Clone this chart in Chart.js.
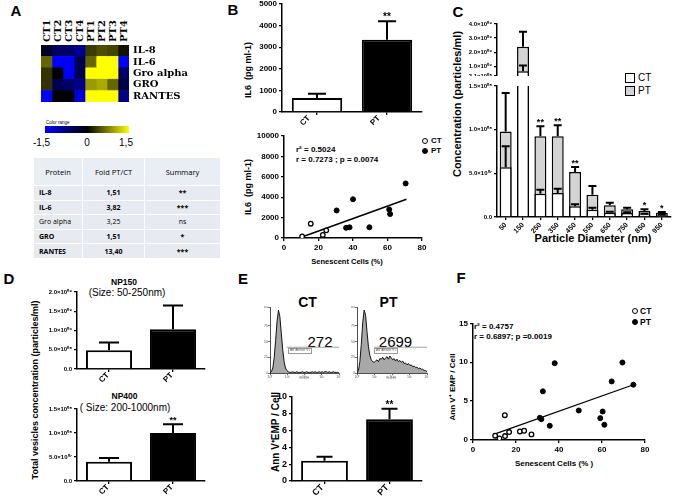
<!DOCTYPE html>
<html>
<head>
<meta charset="utf-8">
<title>Senescence figure</title>
<script src="https://cdn.jsdelivr.net/npm/chart.js@4.4.1/dist/chart.umd.min.js"></script>
<style>
  body { margin: 0; background: #fff; }
  #fig { position: relative; width: 675px; height: 500px; overflow: hidden; font-family: "Liberation Sans", Arial, sans-serif; color: #000; }
  #fig canvas { position: absolute; }
  .t { position: absolute; white-space: nowrap; transform: translate(-50%, -50%); line-height: 1; }
  .l { position: absolute; white-space: nowrap; transform: translateY(-50%); line-height: 1; }
  .v { position: absolute; white-space: nowrap; transform: translate(-50%, -50%) rotate(-90deg); line-height: 1; font-weight: bold; }
  .col { position: absolute; white-space: nowrap; transform: rotate(-90deg); transform-origin: 0 0; line-height: 1;
         font-family: "DejaVu Serif", "Liberation Serif", serif; font-weight: bold; font-size: 10px; }
  .b { font-weight: bold; }
  .panel { font-size: 15px; font-weight: bold; }
  .dot { position: absolute; box-sizing: border-box; width: 6px; height: 6px; border-radius: 50%; border: 1.3px solid #000; transform: translate(-50%, -50%); }
  .sq { position: absolute; box-sizing: border-box; width: 10px; height: 10px; border: 1.5px solid #000; }
  .gate { position: absolute; font-size: 3.5px; color: #555; border: 0.5px solid #999; padding: 0 1px; line-height: 1; background: #fff; }
  #tbl { position: absolute; left: 33px; top: 157px; width: 187px; border-collapse: collapse; table-layout: fixed;
         font-family: "Open Sans", "Noto Sans", sans-serif; font-size: 7px; }
  #tbl th, #tbl td { border: 1px solid #fff; background: #e7ebf1; padding: 0; text-align: center; font-weight: bold; }
  #tbl th { height: 27px; font-weight: normal; font-size: 7.5px; background: #e9eef4; }
  #tbl td { height: 13.6px; }
  #tbl td:first-child { text-align: left; padding-left: 5px; }
  #tbl tr:nth-child(4) td { font-weight: normal; }
</style>
</head>
<body>
<div id="fig">
  <div class="t panel" style="left:16px;top:10px">A</div>
  <div class="t panel" style="left:233px;top:9px">B</div>
  <div class="t panel" style="left:458px;top:10.5px">C</div>
  <div class="t panel" style="left:9px;top:278px">D</div>
  <div class="t panel" style="left:243px;top:277.5px">E</div>
  <div class="t panel" style="left:461px;top:277px">F</div>

  <!-- A: column headers, colour key, table -->
  <div id="heatHead"></div>
  <div class="l" style="left:46px;top:122.5px;font-size:4.5px">Color range</div>
  <div style="position:absolute;left:45px;top:125.7px;width:84px;height:7px;background:linear-gradient(to right,#0000ff,#000 50%,#ffff00)"></div>
  <div id="colorTicks"></div>
  <table id="tbl">
    <colgroup><col style="width:49px"><col style="width:62px"><col style="width:76px"></colgroup>
    <tr><th>Protein</th><th>Fold PT/CT</th><th>Summary</th></tr>
  </table>

  <!-- B -->
  <div class="v" style="left:247.5px;top:70px;font-size:9px">IL6&nbsp; (pg ml-1)</div>
  <div class="v" style="left:248px;top:187px;font-size:9px">IL6&nbsp; (pg ml-1)</div>
  <div class="t b" style="left:347px;top:262px;font-size:7.5px">Senescent Cells (%)</div>
  <div class="l b" style="left:296px;top:150px;font-size:8px">r² = 0.5024</div>
  <div class="l b" style="left:296px;top:159.5px;font-size:8px">r = 0.7273 ; p = 0.0074</div>
  <div class="dot" style="left:425px;top:141px;background:#fff"></div>
  <div class="l b" style="left:431px;top:141px;font-size:8px">CT</div>
  <div class="dot" style="left:425px;top:150.5px;background:#000"></div>
  <div class="l b" style="left:431px;top:150.5px;font-size:8px">PT</div>

  <!-- C -->
  <div class="v" style="left:457px;top:104px;font-size:11px">Concentration (particles/ml)</div>
  <div class="t b" style="left:593px;top:238px;font-size:11px">Particle Diameter (nm)</div>
  <div class="sq" style="left:625px;top:73px;background:#fff"></div>
  <div class="l" style="left:638px;top:78px;font-size:10px">CT</div>
  <div class="sq" style="left:625px;top:86px;background:#d4d4d4"></div>
  <div class="l" style="left:638px;top:91px;font-size:10px">PT</div>

  <!-- D -->
  <div class="v" style="left:35px;top:389.5px;font-size:9px">Total vesicles concentration (particles/ml)</div>
  <div class="t b" style="left:124px;top:281.5px;font-size:8.5px">NP150</div>
  <div class="t" style="left:127px;top:293px;font-size:10px">(Size: 50-250nm)</div>
  <div class="t b" style="left:124.5px;top:396px;font-size:8.5px">NP400</div>
  <div class="t" style="left:125px;top:407.5px;font-size:10px">( Size: 200-1000nm)</div>

  <!-- E -->
  <div class="t b" style="left:307.5px;top:301.7px;font-size:14px">CT</div>
  <div class="t b" style="left:388.5px;top:301.7px;font-size:14px">PT</div>
  <div class="t" style="left:320px;top:341px;font-size:15px">272</div>
  <div class="t" style="left:395.5px;top:341px;font-size:15px">2699</div>
  <div class="gate" style="left:288px;top:348px">AV Annex V+</div>
  <div class="gate" style="left:374px;top:348px">AV Annex V+</div>
  <div class="t" style="left:304px;top:379px;font-size:3.5px;color:#555">FL1-H</div>
  <div class="t" style="left:391px;top:379px;font-size:3.5px;color:#555">FL1-H</div>
  <div class="v" style="left:275.5px;top:432px;font-size:10px">Ann V⁺EMP / Cell</div>

  <!-- F -->
  <div class="v" style="left:452.5px;top:386.5px;font-size:8px">Ann V⁺ EMP / Cell</div>
  <div class="t b" style="left:554px;top:463.5px;font-size:8px">Senescent Cells (% )</div>
  <div class="l b" style="left:474px;top:326.5px;font-size:8px">r² = 0.4757</div>
  <div class="l b" style="left:474px;top:336.5px;font-size:8px">r = 0.6897; p =0.0019</div>
  <div class="dot" style="left:635px;top:310.7px;background:#fff"></div>
  <div class="l b" style="left:640px;top:310.7px;font-size:8.5px">CT</div>
  <div class="dot" style="left:635px;top:321.7px;background:#000"></div>
  <div class="l b" style="left:640px;top:321.7px;font-size:8.5px">PT</div>
</div>

<script>
// ---------- A: cytokine heatmap (colour = z-score) ----------
const heatCols = ['CT1', 'CT2', 'CT3', 'CT4', 'PT1', 'PT2', 'PT3', 'PT4'];
const heatRows = ['IL-8', 'IL-6', 'Gro alpha', 'GRO', 'RANTES'];
const zIL8    = [-0.2, -0.6, -0.6, -0.9, 0.35, 0.45, 0.4, 0.1];
const zIL6    = [0.6, -1.5, -1.5, -0.5, 0.6, 1.5, 1.5, -1.5];
const zGroA   = [0.3, 0.0, -1.5, -0.5, 1.5, 1.5, 1.5, -0.6];
const zGRO    = [0.3, -0.5, -0.6, -0.8, 0.9, 1.0, 0.6, -0.4];
const zRANTES = [-1.5, 0.0, 0.0, -1.3, 1.5, 1.5, 1.5, -0.8];
const colorTicks = ['-1,5', '0', '1,5'];

const tableProtein = ['IL-8', 'IL-6', 'Gro alpha', 'GRO', 'RANTES'];
const tableFold = ['1,51', '3,82', '3,25', '1,51', '13,40'];
const tableSummary = ['**', '***', 'ns', '*', '***'];

// ---------- B: IL6 ----------
const groups = ['CT', 'PT'];
const il6Mean = [645, 3340];
const il6ErrHigh = [850, 4200];
const il6Stars = ['', '**'];

const senCT = [10.5, 15.5, 22.5, 24.5];
const il6CT = [150, 1400, 300, 750];
const senPT = [30.5, 40, 36, 38, 49.5, 61, 61.5, 70.5];
const il6PT = [2700, 3800, 1000, 1050, 1050, 2800, 2350, 5350];
const il6FitX = [10, 71];
const il6FitY = [80, 3800];

// ---------- C: particle size distribution ----------
const sizes = ['50', '150', '250', '350', '450', '550', '650', '750', '850', '950'];
const concCT    = [5.7e7, 6.5e8, 2.67e7, 2.75e7, 1.22e7, 0.84e7, 0.5e7, 0.45e7, 0.3e7, 0.2e7];
const concCTErr = [8.1e7, 1.05e9, 3.13e7, 3.24e7, 1.45e7, 1.07e7, 0.6e7, 0.55e7, 0.38e7, 0.26e7];
const concPT    = [9.8e7, 2.38e9, 9.24e7, 9.24e7, 5.15e7, 2.56e7, 1.34e7, 0.88e7, 0.69e7, 0.5e7];
const concPTErr = [1.42e8, 3.45e9, 1.04e8, 1.05e8, 5.73e7, 3.55e7, 1.64e7, 1.07e7, 0.88e7, 0.57e7];
const concStars = ['', '', '**', '**', '**', '', '', '', '*', '*'];
const concTicksUpper = [3.1e8, 1e9, 2e9, 3e9, 4e9];

// ---------- D: total vesicles ----------
const np150Mean = [4.9e8, 1.03e9];
const np150ErrHigh = [6.9e8, 1.65e9];
const np400Mean = [4.0e7, 1.0e8];
const np400ErrHigh = [4.8e7, 1.18e8];
const np400Stars = ['', '**'];

// ---------- E: Annexin V+ EMP ----------
const histCT = [0,2,8,25,52,82,100,90,64,38,18,8,4,2,1,1,2,1,1,2,1,1,1,2,1,1,2,1,1,1,2,1,2,1,1,2,1,2,1,2,2,1,2,1,1,2,1,1,1,0];
const histPT = [0,4,18,45,80,100,92,66,42,28,21,18,17,19,21,18,23,22,25,21,24,26,22,27,24,21,23,19,22,18,20,17,19,15,16,13,15,12,13,10,11,9,9,7,8,6,6,4,4,2];
const histDecades = ['10⁰', '10¹', '10²', '10³', '10⁴'];
const histGateCT = [12, 49];
const histGatePT = [12, 49];
const histGateLevel = 41;
const annMean = [2.4, 7.35];
const annErrHigh = [2.9, 8.6];
const annStars = ['', '**'];

// ---------- F: EMP vs senescence ----------
const fSenCT = [10.3, 12.3, 14.9, 16.8, 14.8, 21.8, 23.8, 27.2];
const fEmpCT = [0.55, 0.21, 0.51, 1.02, 3.19, 1.1, 1.19, 0.72];
const fSenPT = [31.1, 31.8, 32.5, 35.7, 38.0, 49.2, 59.2, 60.3, 61.1, 64.5, 69.5, 74.6];
const fEmpPT = [2.85, 2.68, 6.26, 1.83, 9.87, 3.79, 2.81, 3.66, 1.96, 7.53, 9.96, 7.11];
const fFitX = [10.3, 74.6];
const fFitY = [0.8, 7.1];

// ---------------------------------------------------------------
Chart.defaults.font.family = '"Liberation Sans", Arial, sans-serif';
Chart.defaults.color = '#000';
Chart.defaults.animation = false;
Chart.defaults.responsive = false;
Chart.defaults.plugins.legend.display = false;
Chart.defaults.plugins.tooltip.enabled = false;

const fig = document.getElementById('fig');
function canvasAt(left, top, w, h) {
  const c = document.createElement('canvas');
  c.width = w; c.height = h;
  c.style.left = left + 'px'; c.style.top = top + 'px';
  c.style.width = w + 'px'; c.style.height = h + 'px';
  fig.appendChild(c);
  return c;
}

const bold = size => ({ size, weight: 'bold' });
const pairs = (xs, ys) => xs.map((x, i) => ({ x, y: ys[i] }));
const plain = v => String(v);
const sup = { 0: '⁰', 1: '¹', 2: '²', 3: '³', 4: '⁴', 5: '⁵', 6: '⁶', 7: '⁷', 8: '⁸', 9: '⁹' };
function sci(v) {
  if (v === 0) return '0.0';
  const e = Math.floor(Math.log10(v) + 1e-9);
  const m = (v / Math.pow(10, e)).toFixed(1);
  return m + '×10' + String(e).padStart(2, '0').replace(/\d/g, d => sup[d]);
}
function heatColor(v) {
  const t = Math.max(-1, Math.min(1, v / 1.5));
  const c = Math.round(Math.abs(t) * 255);
  return t < 0 ? `rgb(0,0,${c})` : `rgb(${c},${c},0)`;
}
// fixed axis thickness and no extra label margins -> predictable plot area
function fixW(w) { return s => { s.width = w; s.paddingLeft = s.paddingRight = s.paddingTop = s.paddingBottom = 0; }; }
function fixH(h) { return s => { s.height = h; s.paddingLeft = s.paddingRight = s.paddingTop = s.paddingBottom = 0; }; }

const axisGrid = () => ({ drawOnChartArea: false, tickLength: 3, color: '#000', lineWidth: 1.3 });
const axisBorder = () => ({ color: '#000', width: 1.5 });
function yLin(width, min, max, step, font, callback) {
  return { type: 'linear', min, max, ticks: { stepSize: step, font, padding: 2, autoSkip: false, color: '#000', callback: callback || plain },
    grid: axisGrid(), border: axisBorder(), afterFit: fixW(width) };
}
function xLin(height, min, max, step, font) {
  return { type: 'linear', min, max, ticks: { stepSize: step, font, padding: 2, color: '#000', callback: plain },
    grid: axisGrid(), border: axisBorder(), afterFit: fixH(height) };
}
function xCat(height, font) {
  return { ticks: { font, minRotation: 45, maxRotation: 46, padding: 1, autoSkip: false, color: '#000' },
    grid: Object.assign(axisGrid(), { offset: false }), border: axisBorder(), afterFit: fixH(height) };
}

// whiskers (mean -> upper SEM) and significance stars
const errorBars = {
  id: 'errorBars',
  afterDatasetsDraw(chart, args, opts) {
    const { ctx, chartArea: a } = chart;
    const y = chart.scales.y;
    ctx.save();
    ctx.beginPath();
    ctx.rect(a.left, a.top, a.right - a.left, a.bottom - a.top);
    ctx.clip();
    ctx.strokeStyle = '#000';
    ctx.fillStyle = '#000';
    ctx.lineWidth = 2;
    ctx.textAlign = 'center';
    ctx.textBaseline = 'alphabetic';
    ctx.font = `bold ${opts.starSize || 9}px "Liberation Sans", Arial, sans-serif`;
    chart.data.datasets.forEach((ds, di) => {
      if (!ds.errHigh) return;
      chart.getDatasetMeta(di).data.forEach((bar, i) => {
        const x = bar.x;
        const y0 = y.getPixelForValue(ds.data[i]);
        const y1 = y.getPixelForValue(ds.errHigh[i]);
        ctx.beginPath();
        ctx.moveTo(x, y0); ctx.lineTo(x, y1);
        ctx.moveTo(x - opts.cap, y1); ctx.lineTo(x + opts.cap, y1);
        ctx.stroke();
        if (ds.stars && ds.stars[i] && y1 > a.top && y1 < a.bottom) ctx.fillText(ds.stars[i], x, y1 - 1);
      });
    });
    ctx.restore();
  }
};
// 45-degree category labels placed from the x scale's tick pixels
const slantLabels = {
  id: 'slantLabels',
  afterDraw(chart, args, opts) {
    if (!opts.size) return;
    const sx = chart.scales.x;
    const ctx = chart.ctx;
    ctx.save();
    ctx.font = `bold ${opts.size}px "Liberation Sans", Arial, sans-serif`;
    ctx.fillStyle = '#000';
    ctx.textAlign = 'right';
    ctx.textBaseline = 'middle';
    chart.data.labels.forEach((lab, i) => {
      ctx.save();
      ctx.translate(sx.getPixelForTick(i) + opts.dx, sx.top + opts.dy);
      ctx.rotate(-Math.PI / 4);
      ctx.fillText(lab, 0, 0);
      ctx.restore();
    });
    ctx.restore();
  }
};
Chart.register(errorBars, slantLabels);

function ctPtBars(canvas, mean, errHigh, stars, y, xHeight, labelSize, dx, cap, starSize, padRight) {
  const x = xCat(xHeight, bold(labelSize));
  x.ticks.display = false;
  return new Chart(canvas, {
    type: 'bar',
    data: { labels: groups, datasets: [{
      data: mean, errHigh, stars,
      backgroundColor: ['#fff', '#000'], borderColor: '#000', borderWidth: 2, borderSkipped: 'start',
      barPercentage: 0.72, categoryPercentage: 1
    }] },
    options: {
      layout: { padding: { top: 4, right: padRight } },
      scales: { x, y },
      plugins: { errorBars: { cap, starSize }, slantLabels: { size: labelSize, dx, dy: 5 } }
    }
  });
}

// ---------- A ----------
const heatData = [zIL8, zIL6, zGroA, zGRO, zRANTES];
const heatFont = { family: '"DejaVu Serif", "Liberation Serif", serif', size: 10, weight: 'bold' };
const heatChart = new Chart(canvasAt(41, 45, 163, 57), {
  type: 'bar',
  data: {
    labels: heatRows,
    datasets: heatCols.map((c, j) => ({
      label: c,
      data: heatRows.map(() => 1),
      backgroundColor: heatData.map(row => heatColor(row[j])),
      borderWidth: 0, barPercentage: 1, categoryPercentage: 1
    }))
  },
  options: {
    indexAxis: 'y',
    layout: { padding: 0 },
    scales: {
      x: { display: false, stacked: true, min: 0, max: heatCols.length },
      y: { position: 'right', stacked: true, grid: { display: false, drawTicks: false }, border: { display: false },
        ticks: { font: heatFont, padding: 4, autoSkip: false, color: '#000' }, afterFit: fixW(75) }
    }
  }
});
// column headers above the heatmap, centred on the library's cell positions
const head = document.getElementById('heatHead');
heatCols.forEach((c, j) => {
  const sx = heatChart.scales.x;
  const cx = 41 + (sx.getPixelForValue(j) + sx.getPixelForValue(j + 1)) / 2;
  const d = document.createElement('div');
  d.className = 'col';
  d.style.left = (cx - 5) + 'px';
  d.style.top = '42px';
  d.textContent = c;
  head.appendChild(d);
});

const ctHolder = document.getElementById('colorTicks');
[41.5, 87, 126].forEach((x, i) => {
  const d = document.createElement('div');
  d.className = 't';
  d.style.cssText = `left:${x}px;top:143px;font-size:10px`;
  d.textContent = colorTicks[i];
  ctHolder.appendChild(d);
});

const tbl = document.getElementById('tbl');
tableProtein.forEach((p, i) => {
  const tr = tbl.insertRow();
  [p, tableFold[i], tableSummary[i]].forEach(v => { tr.insertCell().textContent = v; });
});

// ---------- B ----------
ctPtBars(canvasAt(238, 0, 190, 134), il6Mean, il6ErrHigh, il6Stars,
  yLin(44, 0, 5000, 1000, bold(8)), 22, 8, -8, 9, 10, 6);

new Chart(canvasAt(238, 130, 190, 138), {
  type: 'scatter',
  data: { datasets: [
    { data: pairs(senCT, il6CT), pointRadius: 2.3, pointBorderWidth: 1.3, pointBackgroundColor: '#fff', pointBorderColor: '#000' },
    { data: pairs(senPT, il6PT), pointRadius: 2.5, pointBorderWidth: 1, pointBackgroundColor: '#000', pointBorderColor: '#000' },
    { data: pairs(il6FitX, il6FitY), showLine: true, pointRadius: 0, borderColor: '#000', borderWidth: 1.5 }
  ] },
  options: {
    layout: { padding: { top: 6, right: 6 } },
    scales: { x: xLin(30, 0, 80, 20, bold(8)), y: yLin(46, 0, 10000, 2000, bold(8)) }
  }
});

// ---------- C (broken axis: two stacked charts) ----------
function concDatasets() {
  return [
    { data: concCT, errHigh: concCTErr, backgroundColor: '#fff', borderColor: '#000', borderWidth: 1.5,
      borderSkipped: 'start', grouped: false, clip: 0, barPercentage: 0.69, categoryPercentage: 1 },
    { data: concPT, errHigh: concPTErr, stars: concStars, backgroundColor: '#d4d4d4', borderColor: '#000', borderWidth: 1.5,
      borderSkipped: 'start', grouped: false, clip: 0, barPercentage: 0.69, categoryPercentage: 1 }
  ];
}
const cUpperY = yLin(57, concTicksUpper[0], concTicksUpper[concTicksUpper.length - 1], 1e9, bold(6), sci);
cUpperY.afterBuildTicks = s => { s.ticks = concTicksUpper.map(value => ({ value })); };
new Chart(canvasAt(440, 20, 232, 56), {
  type: 'bar',
  data: { labels: sizes, datasets: concDatasets() },
  options: {
    layout: { padding: { top: 4, right: 1.5 } },
    scales: { x: { display: false }, y: cUpperY },
    plugins: { errorBars: { cap: 4, starSize: 9 } }
  }
});
new Chart(canvasAt(440, 82, 232, 163), {
  type: 'bar',
  data: { labels: sizes, datasets: concDatasets() },
  options: {
    layout: { padding: { top: 4, right: 1.5 } },
    scales: { x: xCat(28, bold(7)), y: yLin(57, 0, 1.5e8, 5e7, bold(6), sci) },
    plugins: { errorBars: { cap: 4, starSize: 9 } }
  }
});

// ---------- D ----------
ctPtBars(canvasAt(42, 288, 167, 101), np150Mean, np150ErrHigh, null,
  yLin(35, 0, 2e9, 5e8, bold(6), sci), 20, 8, -1, 10, 9, 4);
ctPtBars(canvasAt(42, 405, 167, 95), np400Mean, np400ErrHigh, np400Stars,
  yLin(35, 0, 1.5e8, 5e7, bold(6), sci), 19, 8, -1, 10, 9, 4);

// ---------- E: flow histograms ----------
function histChart(canvas, counts, gate) {
  const tiny = { size: 3.5 };
  return new Chart(canvas, {
    type: 'line',
    data: { datasets: [
      { data: counts.map((v, i) => ({ x: i, y: v })), fill: 'origin', backgroundColor: '#a8a8a8',
        borderColor: '#111', borderWidth: 1, pointRadius: 0, tension: 0 },
      { data: gate.map(x => ({ x, y: histGateLevel })), borderColor: '#8a8a8a', borderWidth: 0.8, pointRadius: 0, fill: false }
    ] },
    options: {
      layout: { padding: { top: 1, right: 2 } },
      scales: {
        x: { type: 'linear', min: 0, max: counts.length - 1,
          ticks: { stepSize: (counts.length - 1) / 4, font: tiny, color: '#555', padding: 0, callback: (v, i) => histDecades[i] },
          grid: { drawOnChartArea: false, tickLength: 2, color: '#333', lineWidth: 0.7 },
          border: { color: '#222', width: 0.8 }, afterFit: fixH(8) },
        y: { min: 0, max: 105,
          ticks: { stepSize: 25, font: tiny, color: '#555', padding: 0 },
          grid: { drawOnChartArea: false, tickLength: 2, color: '#333', lineWidth: 0.7 },
          border: { color: '#222', width: 0.8 }, afterFit: fixW(6) }
      }
    }
  });
}
histChart(canvasAt(264, 306, 77, 75), histCT, histGateCT);
histChart(canvasAt(351, 306, 78, 75), histPT, histGatePT);

ctPtBars(canvasAt(262, 393, 166, 107), annMean, annErrHigh, annStars,
  yLin(30, 0, 10, 2, bold(9)), 19, 9, -2, 8, 10, 6);

// ---------- F ----------
new Chart(canvasAt(443, 318, 210, 152), {
  type: 'scatter',
  data: { datasets: [
    { data: pairs(fSenCT, fEmpCT), pointRadius: 2.3, pointBorderWidth: 1.3, pointBackgroundColor: '#fff', pointBorderColor: '#000' },
    { data: pairs(fSenPT, fEmpPT), pointRadius: 2.5, pointBorderWidth: 1, pointBackgroundColor: '#000', pointBorderColor: '#000' },
    { data: pairs(fFitX, fFitY), showLine: true, pointRadius: 0, borderColor: '#000', borderWidth: 1.3 }
  ] },
  options: {
    layout: { padding: { top: 5, right: 8 } },
    scales: { x: xLin(30, 0, 80, 20, bold(8)), y: yLin(30, 0, 15, 5, bold(8)) }
  }
});
</script>
</body>
</html>
